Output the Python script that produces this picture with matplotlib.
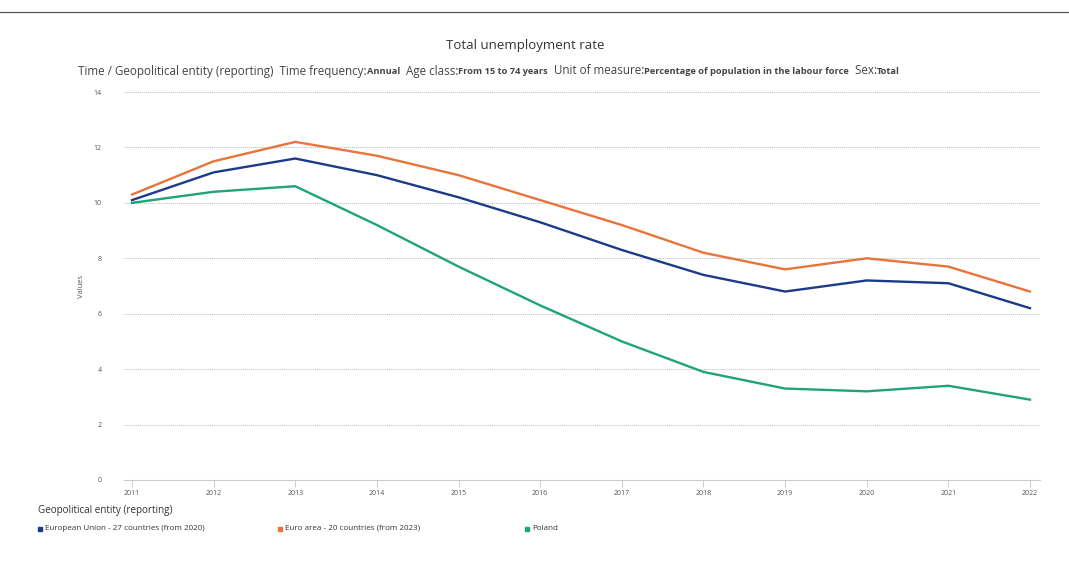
import matplotlib
matplotlib.use("Agg")
import matplotlib.pyplot as plt

years = list(range(2011, 2023))
eu27 = [10.1, 11.1, 11.6, 11.0, 10.2, 9.3, 8.3, 7.4, 6.8, 7.2, 7.1, 6.2]
ea20 = [10.3, 11.5, 12.2, 11.7, 11.0, 10.1, 9.2, 8.2, 7.6, 8.0, 7.7, 6.8]
poland = [10.0, 10.4, 10.6, 9.2, 7.7, 6.3, 5.0, 3.9, 3.3, 3.2, 3.4, 2.9]

series_names = ["European Union - 27 countries (from 2020)",
                "Euro area - 20 countries (from 2023)",
                "Poland"]
colors = ["#1b3a8a", "#e8743b", "#1fa37a"]

plt.rcParams['font.family'] = ['Open Sans', 'DejaVu Sans']

fig = plt.figure(figsize=(10.69, 5.72), dpi=100)
fig.patch.set_facecolor("white")

# thin rule at the very top
fig.add_artist(plt.Line2D([0, 1], [1 - 12/572, 1 - 12/572], color="#555555", lw=0.9))

ax = fig.add_axes([124/1069, 1 - 480/572, (1040-124)/1069, (480-92)/572])
for name, vals, c in zip(series_names, [eu27, ea20, poland], colors):
    ax.plot(years, vals, color=c, lw=1.7, label=name)

ax.set_ylim(0, 14)
ax.set_xlim(2011 - 8/81.6, 2022 + 10/81.6)
ax.set_yticks(range(0, 15, 2))
ax.set_xticks(years)
ax.grid(axis="y", color="#bbbbbb", linestyle=(0, (1, 1)), lw=0.7)
for s in ["top", "right", "left"]:
    ax.spines[s].set_visible(False)
ax.spines["bottom"].set_color("#cccccc")
ax.tick_params(axis="y", length=0, labelsize=5, colors="#555555", pad=16)
ax.tick_params(axis="x", length=5, color="#cccccc", labelsize=5, labelcolor="#555555", pad=2)
ax.set_ylabel("Values", fontsize=5.5, color="#555555", labelpad=6)

fig.text(525/1069, 1 - 46/572, "Total unemployment rate", ha="center", va="center",
         fontsize=9.5, color="#333333")

# subtitle with mixed regular / bold parts
parts = [("Time / Geopolitical entity (reporting)  Time frequency:", False),
         ("Annual", True),
         ("  Age class:", False),
         ("From 15 to 74 years", True),
         ("  Unit of measure:", False),
         ("Percentage of population in the labour force", True),
         ("  Sex:", False),
         ("Total", True)]
fig.canvas.draw()
r = fig.canvas.get_renderer()
x = 78
for txt, bold in parts:
    t = fig.text(x/1069, 1 - 71/572, txt, ha="left", va="center",
                 fontsize=6.7 if bold else 8.4, fontweight="bold" if bold else "normal",
                 color="#444444")
    bb = t.get_window_extent(renderer=r)
    x = bb.x1 + (2 if txt.endswith(" ") else 0)

fig.text(38/1069, 1 - 511/572, "Geopolitical entity (reporting)", ha="left", va="center",
         fontsize=7.1, color="#333333")
for lx, name, c in zip([38, 278, 525], series_names, colors):
    fig.add_artist(plt.Rectangle(((lx)/1069, 1 - 530.5/572), 4/1069, 4/572,
                                 color=c, transform=fig.transFigure))
    fig.text((lx + 7)/1069, 1 - 528/572, name, ha="left", va="center",
             fontsize=5.8, color="#333333")

fig.savefig("out.png", dpi=100, facecolor="white")
